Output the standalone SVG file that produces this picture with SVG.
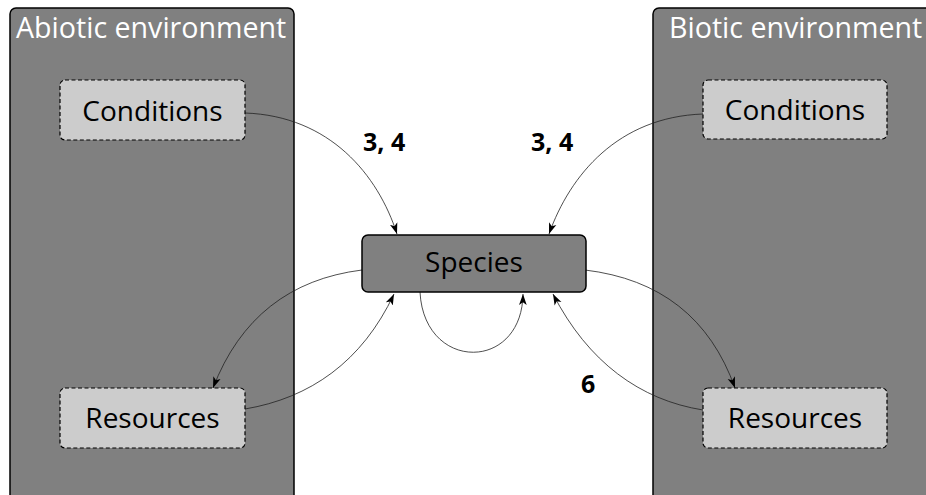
<svg xmlns="http://www.w3.org/2000/svg" width="926" height="495" viewBox="0 0 926 495">
<style>
.panel{fill:#808080;stroke:#000;stroke-width:1.5}
.node{fill:#cccccc;stroke:#000;stroke-width:1.2;stroke-dasharray:4,2.5}
.species{fill:#808080;stroke:#000;stroke-width:1.5}
.t{font-family:"Open Sans","Noto Sans",sans-serif;font-size:28px;text-anchor:middle;fill:#000}
.title{font-family:"Open Sans","Noto Sans",sans-serif;font-size:28.6px;fill:#fff}
.lbl{font-family:"Open Sans","Noto Sans",sans-serif;font-size:25px;font-weight:bold;fill:#000}
.c{fill:none;stroke:#222;stroke-width:0.8;marker-end:url(#a)}
</style>
<defs>
<marker id="a" viewBox="0 0 10 10" refX="10" refY="5" markerWidth="11" markerHeight="11" markerUnits="userSpaceOnUse" orient="auto">
<path d="M0,1.5 L10,5 L0,8.5 L2.5,5 Z" fill="#000"/>
</marker>
</defs>
<rect width="926" height="495" fill="#fff"/>
<g id="abiotic">
<rect class="panel" x="10" y="8" width="284" height="500" rx="6"/>
<text class="title" x="16" y="38">Abiotic environment</text>
</g>
<g id="biotic">
<rect class="panel" x="653" y="8" width="290" height="500" rx="6"/>
<text class="title" x="669" y="38">Biotic environment</text>
</g>
<g id="connectors">
<path class="c" d="M245,113 C330,116 378,175 397,234"/>
<path class="c" d="M703,114 C618,117 570,175 549,234"/>
<path class="c" d="M362,270 C290,279 240,318 213,388"/>
<path class="c" d="M245,409 C310,398 362,362 394,294"/>
<path class="c" d="M420,292 C424,372 522,372 523,294"/>
<path class="c" d="M585,270 C660,279 710,318 735,388"/>
<path class="c" d="M703,410 C640,400 588,362 553,294"/>
</g>
<g id="labels">
<text class="lbl" x="363" y="151">3, 4</text>
<text class="lbl" x="531" y="151">3, 4</text>
<text class="lbl" x="581" y="393">6</text>
</g>
<g id="abiotic-conditions">
<rect class="node" x="60" y="80" width="185" height="60" rx="5"/>
<text class="t" x="152.5" y="121">Conditions</text>
</g>
<g id="abiotic-resources">
<rect class="node" x="60" y="388" width="185" height="60" rx="5"/>
<text class="t" x="152.5" y="428">Resources</text>
</g>
<g id="biotic-conditions">
<rect class="node" x="703" y="80" width="184" height="59" rx="5"/>
<text class="t" x="795" y="120">Conditions</text>
</g>
<g id="biotic-resources">
<rect class="node" x="703" y="388" width="184" height="60" rx="5"/>
<text class="t" x="795" y="428">Resources</text>
</g>
<g id="species">
<rect class="species" x="362" y="235" width="224" height="57" rx="6"/>
<text class="t" x="474" y="272">Species</text>
</g>
</svg>
